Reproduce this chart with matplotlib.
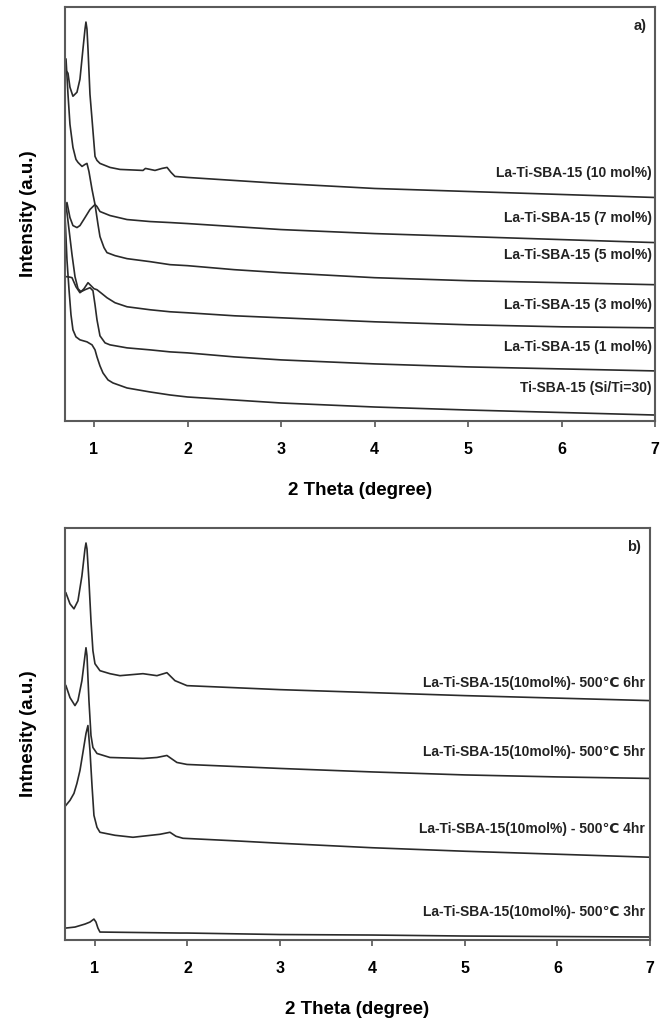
"""
Padroes de DRX de baixo angulo - La-Ti-SBA-15
"""
import matplotlib
matplotlib.use('Agg')
import matplotlib.pyplot as plt

plt.rcParams['font.family'] = ['Liberation Sans', 'DejaVu Sans']
plt.rcParams['font.weight'] = 'bold'

# ---- Painel a) ----
x_10 = [0.69, 0.722, 0.743, 0.775, 0.818, 0.850, 0.882, 0.904, 0.914, 0.925, 0.936, 0.957, 0.979,
        1.011, 1.032, 1.064, 1.171, 1.278, 1.524, 1.55, 1.652, 1.727, 1.781, 1.824, 1.866, 2.0,
        2.5, 3.0, 4.0, 5.0, 6.0, 7.0]
y_10 = [351, 347, 333, 324, 328, 341, 371, 391, 398, 391, 371, 326, 301,
        264, 260, 257, 253, 251, 250, 252, 250, 252, 253, 248, 244, 243,
        240, 237, 232, 229, 226, 223]

x_7 = [0.69, 0.711, 0.743, 0.775, 0.818, 0.850, 0.904, 0.957, 1.011, 1.032, 1.064, 1.171, 1.353,
       1.6, 1.813, 2.0, 2.5, 3.0, 4.0, 5.0, 6.0, 7.0]
y_7 = [206, 218, 203, 195, 193, 195, 203, 211, 216, 214, 209, 205, 201,
       199, 198, 197, 194, 191, 187, 184, 181, 178]

x_5 = [0.701, 0.722, 0.743, 0.775, 0.807, 0.829, 0.872, 0.904, 0.925, 0.946, 0.979, 1.011, 1.043,
       1.064, 1.107, 1.139, 1.225, 1.353, 1.6, 1.813, 2.0, 2.5, 3.0, 4.0, 5.0, 6.0, 7.0]
y_5 = [361, 326, 296, 273, 261, 258, 254, 256, 257, 249, 231, 216, 196,
       184, 173, 168, 165, 162, 159, 156, 155, 151, 148, 143, 140, 138, 136]

x_3 = [0.69, 0.722, 0.765, 0.807, 0.850, 0.893, 0.936, 0.968, 1.0, 1.032, 1.086, 1.139, 1.225,
       1.353, 1.6, 1.813, 2.0, 2.5, 3.0, 4.0, 5.0, 6.0, 7.0]
y_3 = [144, 144, 143, 134, 128, 132, 138, 135, 132, 131, 127, 123, 118,
       114, 111, 109, 108, 105, 103, 99, 96, 94, 93]

x_1 = [0.701, 0.733, 0.765, 0.797, 0.829, 0.861, 0.904, 0.957, 0.989, 1.011, 1.032, 1.064, 1.118,
       1.171, 1.353, 1.6, 1.813, 2.0, 2.5, 3.0, 4.0, 5.0, 6.0, 7.0]
y_1 = [216, 191, 166, 144, 132, 129, 131, 133, 130, 116, 101, 85, 78,
       76, 73, 71, 69, 68, 64, 61, 57, 54, 52, 50]

x_ti = [0.69, 0.711, 0.733, 0.754, 0.775, 0.807, 0.850, 0.925, 0.979, 1.011, 1.032, 1.064, 1.096,
        1.150, 1.203, 1.353, 1.6, 1.813, 2.0, 2.5, 3.0, 4.0, 5.0, 6.0, 7.0]
y_ti = [206, 161, 131, 106, 91, 84, 81, 79, 76, 71, 64, 55, 48,
        41, 38, 33, 29, 26, 24, 21, 18, 14, 11, 8.5, 6]

series_a = [(x_10, y_10), (x_7, y_7), (x_5, y_5), (x_3, y_3), (x_1, y_1), (x_ti, y_ti)]
labels_a = ['La-Ti-SBA-15 (10 mol%)', 'La-Ti-SBA-15 (7 mol%)', 'La-Ti-SBA-15 (5 mol%)',
            'La-Ti-SBA-15 (3 mol%)', 'La-Ti-SBA-15 (1 mol%)', 'Ti-SBA-15 (Si/Ti=30)']
label_ya = [247, 203, 166, 116, 74, 33]

# ---- Painel b) ----
x_6h = [0.686, 0.730, 0.773, 0.816, 0.859, 0.892, 0.903, 0.914, 0.935, 0.957, 0.978, 1.0, 1.054,
        1.162, 1.270, 1.519, 1.670, 1.778, 1.865, 1.995, 2.5, 3.0, 4.0, 5.0, 6.0, 7.0]
y_6h = [348, 337, 332, 340, 365, 392, 398, 392, 360, 320, 290, 277, 270,
        267, 265, 267, 265, 268, 260, 255, 253, 251, 248, 245, 242.5, 240]

x_5h = [0.686, 0.730, 0.784, 0.816, 0.859, 0.892, 0.903, 0.914, 0.935, 0.957, 0.978, 1.022, 1.162,
        1.519, 1.670, 1.778, 1.886, 1.995, 2.5, 3.0, 4.0, 5.0, 6.0, 7.0]
y_5h = [255, 243, 235, 240, 260, 285, 293, 285, 240, 205, 193, 187, 183,
        182, 183, 185, 178, 176, 174, 172, 168.5, 165.5, 163.5, 162]

x_4h = [0.686, 0.730, 0.773, 0.805, 0.838, 0.870, 0.903, 0.924, 0.946, 0.968, 0.989, 1.022, 1.054,
        1.216, 1.411, 1.703, 1.811, 1.876, 1.951, 2.5, 3.0, 4.0, 5.0, 6.0, 7.0]
y_4h = [135, 140, 147, 157, 170, 188, 207, 215, 190, 155, 125, 113, 108,
        105, 103, 106, 108, 104, 102, 99.5, 97, 92.5, 89, 86, 83]

x_3h = [0.686, 0.784, 0.892, 0.946, 0.989, 1.011, 1.032, 1.054, 1.919, 1.995, 3.0, 4.0, 5.0, 6.0, 7.0]
y_3h = [12, 13, 16, 18, 21, 18, 12, 8, 7, 7, 5.5, 5, 4, 3.5, 3]

series_b = [(x_6h, y_6h), (x_5h, y_5h), (x_4h, y_4h), (x_3h, y_3h)]
labels_b = ['La-Ti-SBA-15(10mol%)- 500\u2103 6hr', 'La-Ti-SBA-15(10mol%)- 500\u2103 5hr',
            'La-Ti-SBA-15(10mol%) - 500\u2103 4hr', 'La-Ti-SBA-15(10mol%)- 500\u2103 3hr']
label_yb = [258, 188, 111, 28]

xticks = [1, 2, 3, 4, 5, 6, 7]

fig = plt.figure(figsize=(6.7, 10.18), dpi=100)
ax1 = fig.add_axes([0.097, 0.5864, 0.881, 0.4067])
ax2 = fig.add_axes([0.097, 0.0766, 0.873, 0.4047])


def estilo(ax, x0, ylab, tag):
    ax.set_xlim(x0, 7.0)
    ax.set_ylim(0, 413)
    ax.set_xticks(xticks)
    ax.set_xticklabels([str(t) for t in xticks], fontsize=11.5, fontweight='bold')
    ax.set_yticks([])
    ax.tick_params(axis='x', direction='out', length=4, width=1.2, color='#555555', pad=11)
    for s in ax.spines.values():
        s.set_color('#5a5a5a')
        s.set_linewidth(1.5)
    ax.set_xlabel('2 Theta (degree)', fontsize=13.5, fontweight='bold', labelpad=18)
    ax.set_ylabel(ylab, fontsize=13.5, fontweight='bold', labelpad=20)
    ax.text(0.985, 0.955, tag, transform=ax.transAxes, ha='right', va='center',
            fontsize=10.5, fontweight='bold', color='#222222')


for (xs, ys), lab, ly in zip(series_a, labels_a, label_ya):
    ax1.plot(xs, ys, color='#2a2a2a', lw=1.2)
    ax1.text(6.96, ly, lab, ha='right', va='center', fontsize=10, fontweight='bold', color='#222222')
estilo(ax1, 0.69, 'Intensity (a.u.)', 'a)')

for (xs, ys), lab, ly in zip(series_b, labels_b, label_yb):
    ax2.plot(xs, ys, color='#2a2a2a', lw=1.2)
    ax2.text(6.95, ly, lab, ha='right', va='center', fontsize=10, fontweight='bold', color='#222222')
estilo(ax2, 0.676, 'Intnesity (a.u.)', 'b)')

fig.savefig('out.png', dpi=100)
